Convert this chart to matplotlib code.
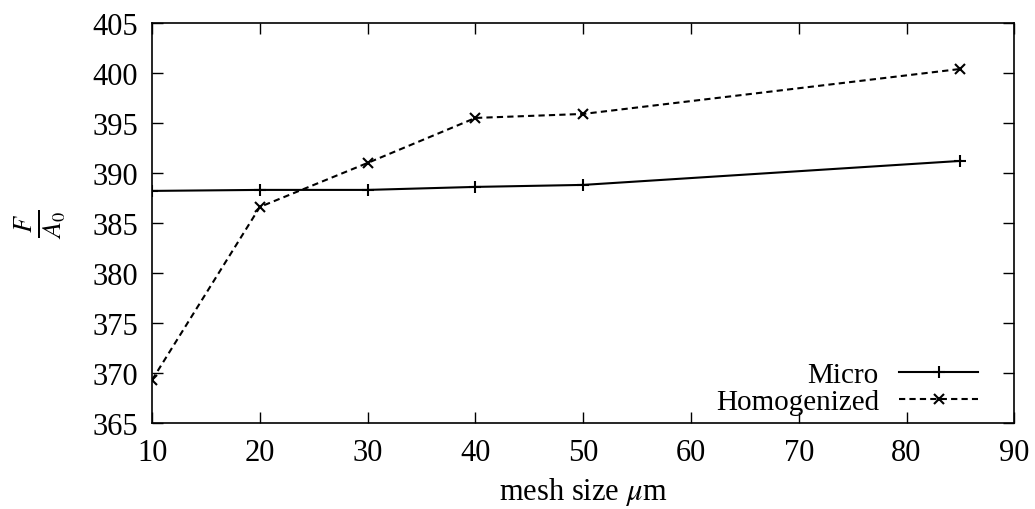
import matplotlib
matplotlib.use("Agg")
import matplotlib.pyplot as plt

# data
mesh_size = [10, 20, 30, 40, 50, 85]
micro = [388.2, 388.3, 388.3, 388.6, 388.8, 391.2]
homogenized = [369.3, 386.6, 391.0, 395.5, 395.9, 400.4]

x_ticks = [10, 20, 30, 40, 50, 60, 70, 80, 90]
y_ticks = [365, 370, 375, 380, 385, 390, 395, 400, 405]

plt.rcParams["font.family"] = ["Liberation Serif", "DejaVu Serif"]
plt.rcParams["mathtext.fontset"] = "stix"

fig = plt.figure(figsize=(10.35, 5.10), dpi=100)
ax = fig.add_axes([0.147, 0.169, 0.833, 0.784])

ax.plot(mesh_size, micro, color="black", lw=1.5, marker="+", ms=9, mew=1.5,
        label="Micro")
ax.plot(mesh_size, homogenized, color="black", lw=1.5, ls=(0, (3, 2)),
        marker="x", ms=7, mew=1.5, label="Homogenized")

ax.set_xlim(10, 90)
ax.set_ylim(365, 405)
ax.set_xticks(x_ticks)
ax.set_yticks(y_ticks)
ax.tick_params(direction="in", top=True, right=True, length=8, width=1,
               labelsize=22)
ax.tick_params(axis="y", pad=10)
ax.tick_params(axis="x", pad=11)
for sp in ax.spines.values():
    sp.set_linewidth(1.2)

ax.set_xlabel(r"mesh size $\mu$m", fontsize=22, labelpad=6)
ax.set_ylabel(r"$\frac{F}{A_0}$", fontsize=27, rotation=90, labelpad=18)

ax.legend(loc="lower right", bbox_to_anchor=(0.958, 0.02), frameon=False,
          markerfirst=False, fontsize=21, handlelength=2.7,
          handletextpad=0.7, labelspacing=0.0, borderpad=0,
          borderaxespad=0)

fig.savefig("out.png", dpi=100)
